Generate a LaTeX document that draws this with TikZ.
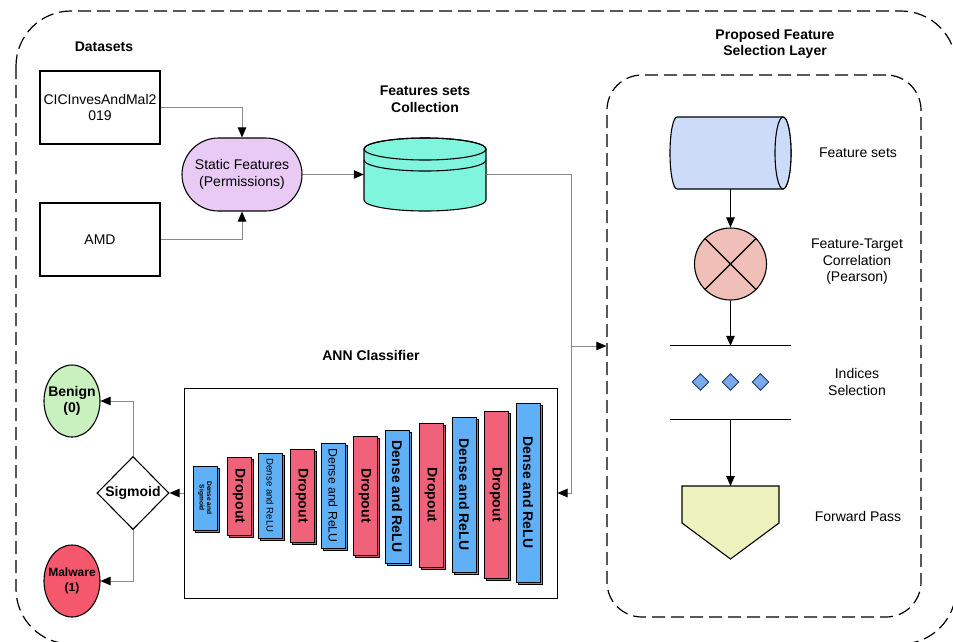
\documentclass[tikz,border=0pt]{standalone}
\usepackage{fontspec}
\setmainfont{Liberation Sans}
\usetikzlibrary{arrows.meta,shapes.geometric,shapes.misc}
\definecolor{sfcol}{HTML}{E8CAF5}
\definecolor{aquacol}{HTML}{7FF5DD}
\definecolor{fscol}{HTML}{CCDCF8}
\definecolor{corrcol}{HTML}{F0BFB8}
\definecolor{pentcol}{HTML}{EEF2BF}
\definecolor{dmcol}{HTML}{7AAAEC}
\definecolor{dmedge}{HTML}{1E3A66}
\definecolor{bencol}{HTML}{C9F0BF}
\definecolor{malcol}{HTML}{F5586C}
\definecolor{laybl}{HTML}{60B0F8}
\definecolor{layrd}{HTML}{F0627A}
\definecolor{conngray}{HTML}{8A8A8A}
\tikzset{
  conn/.style={draw=conngray, line width=1pt, -{Triangle[length=10pt,width=8.5pt,color=black]}},
  connb/.style={draw=black, line width=1pt, -{Triangle[length=10pt,width=8.5pt,color=black]}},
  lbl/.style={font=\fontsize{14}{16.5}\selectfont, align=center},
  blbl/.style={font=\bfseries\fontsize{14}{16.5}\selectfont, align=center},
  shp/.style={draw=black, line width=1.1pt},
  dsh/.style={draw=black, line width=1.2pt, dash pattern=on 13pt off 6pt},
}
\newcommand\annlayer[7]{%
  \draw[line width=0.8pt, fill=#5!85!black] (#2+2.5,#3+2.5) rectangle (#2+26.5,#4+2.5);
  \draw[line width=0.8pt, fill=#5] (#2,#3) rectangle (#2+24,#4);
  \node[rotate=-90, font={#6}, align=center, inner sep=0] (#1) at ({#2+12},{(#3+#4)/2}) {#7};}
\begin{document}
\begin{tikzpicture}[x=1pt,y=-1pt]
\useasboundingbox (0,0) rectangle (953,641);
% outer container
\draw[dsh, rounded corners=55pt] (16,11) rectangle (956,644);
% inner feature selection container
\node[dsh, rounded corners=35pt, minimum width=314pt, minimum height=542pt, inner sep=0] (fsl) at (764,346) {};
\node[blbl] (tfsl) at (775,44) {Proposed Feature\\Selection Layer};

% datasets
\node[blbl] (dslbl) at (104,47) {Datasets};
\node[shp, lbl, minimum width=120pt, minimum height=73pt, inner sep=0] (cic) at (100,107.5) {CICInvesAndMal2\\019};
\node[shp, lbl, minimum width=120pt, minimum height=73pt, inner sep=0] (amd) at (100,239.5) {AMD};
\node[shp, lbl, rounded rectangle, fill=sfcol, minimum width=120pt, minimum height=73pt, inner sep=0] (sf) at (242,174.5) {Static Features\\(Permissions)};

% collection cylinder
\node[blbl] (tcoll) at (425,99) {Features sets\\Collection};
\node[inner sep=0, minimum width=122pt, minimum height=73pt] (coll) at (425,174.5) {};
\filldraw[shp, fill=aquacol] (364,149) -- (364,200) arc[start angle=180, end angle=0, x radius=61, y radius=11]
  -- (486,149) arc[start angle=360, end angle=180, x radius=61, y radius=11] -- cycle;
\draw[shp] (425,149) ellipse [x radius=61, y radius=11];
\draw[shp] (364,160) arc[start angle=180, end angle=0, x radius=61, y radius=11];

\draw[conn] (cic.east) -| (sf.north);
\draw[conn] (amd.east) -| (sf.south);
\draw[conn] (sf.east) -- (coll.west);

% feature selection layer
\node[inner sep=0, minimum width=121pt, minimum height=72pt] (fs) at (730.5,153) {};
\filldraw[shp, fill=fscol] (677,117) -- (783,117) arc[start angle=-90, end angle=90, x radius=8, y radius=36]
  -- (677,189) arc[start angle=90, end angle=270, x radius=7, y radius=36] -- cycle;
\draw[shp, fill=fscol] (783,153) ellipse [x radius=8, y radius=36];
\node[lbl] (lfs) at (858,153) {Feature sets};

\node[shp, circle, fill=corrcol, minimum size=72pt, inner sep=0] (corr) at (730.5,264) {};
\draw[shp] (corr.45) -- (corr.225) (corr.135) -- (corr.315);
\node[lbl] (lcorr) at (857,262) {Feature-Target\\Correlation\\(Pearson)};

\node[inner sep=0, minimum width=121pt, minimum height=73pt] (idx) at (730.5,382.5) {};
\draw[shp] (idx.north west) -- (idx.north east);
\draw[shp] (idx.south west) -- (idx.south east);
\node[diamond, draw=dmedge, fill=dmcol, line width=0.9pt, minimum size=17pt, inner sep=0] (d1) at (700.5,382) {};
\node[diamond, draw=dmedge, fill=dmcol, line width=0.9pt, minimum size=17pt, inner sep=0] (d2) at (730.5,382) {};
\node[diamond, draw=dmedge, fill=dmcol, line width=0.9pt, minimum size=17pt, inner sep=0] (d3) at (760.5,382) {};
\node[lbl] (lidx) at (857,382) {Indices\\Selection};

\filldraw[shp, fill=pentcol] (682,486) -- (779,486) -- (779,523) -- (730.5,559) -- (682,523) -- cycle;
\coordinate (fp) at (730.5,486);
\node[lbl] (lfp) at (858,516) {Forward Pass};

\draw[connb] (fs.south) -- (corr.north);
\draw[connb] (corr.south) -- (idx.north);
\draw[connb] (idx.south) -- (fp);

% ANN classifier
\node[blbl] (tann) at (371,355) {ANN Classifier};
\node[draw=black, line width=1pt, minimum width=373pt, minimum height=210pt, inner sep=0] (ann) at (370.5,493) {};
\annlayer{l1}{193}{466}{530}{laybl}{\bfseries\fontsize{6.6}{7.5}\selectfont}{Dense and\\Sigmoid}
\annlayer{l2}{227}{457}{535}{layrd}{\bfseries\fontsize{14}{16}\selectfont}{Dropout}
\annlayer{l3}{258}{453}{538}{laybl}{\fontsize{9.6}{11}\selectfont}{Dense and ReLU}
\annlayer{l4}{290}{449}{542}{layrd}{\bfseries\fontsize{14}{16}\selectfont}{Dropout}
\annlayer{l5}{321}{443}{548}{laybl}{\fontsize{12.3}{14}\selectfont}{Dense and ReLU}
\annlayer{l6}{353}{436}{555}{layrd}{\bfseries\fontsize{14}{16}\selectfont}{Dropout}
\annlayer{l7}{385}{430}{563}{laybl}{\bfseries\fontsize{14}{16}\selectfont}{Dense and ReLU}
\annlayer{l8}{419}{423}{567}{layrd}{\bfseries\fontsize{14}{16}\selectfont}{Dropout}
\annlayer{l9}{452}{417}{572}{laybl}{\bfseries\fontsize{14}{16}\selectfont}{Dense and ReLU}
\annlayer{l10}{484}{411}{578}{layrd}{\bfseries\fontsize{14}{16}\selectfont}{Dropout}
\annlayer{l11}{516}{403}{582}{laybl}{\bfseries\fontsize{14}{16}\selectfont}{Dense and ReLU}

\draw[conn] (coll.east) -- ++(85,0) coordinate (jn) |- (ann.east);
\draw[conn] (jn |- fsl.west) -- (fsl.west);

% output
\node[shp, diamond, fill=white, minimum width=72pt, minimum height=73pt, inner sep=0, blbl] (sig) at (133,493) {Sigmoid};
\node[shp, ellipse, fill=bencol, minimum width=56pt, minimum height=72pt, inner sep=0] (ben) at (72,401) {};
\node[blbl] (tben) at (ben) {Benign\\(0)};
\node[shp, ellipse, fill=malcol, minimum width=56pt, minimum height=72pt, inner sep=0] (mal) at (72,581) {};
\node[font=\bfseries\fontsize{12}{15}\selectfont, align=center] (tmal) at (mal) {Malware\\(1)};

\draw[conn] (ann.west) -- (sig.east);
\draw[conn] (sig.north) |- (ben.east);
\draw[conn] (sig.south) |- (mal.east);
\end{tikzpicture}
\end{document}
